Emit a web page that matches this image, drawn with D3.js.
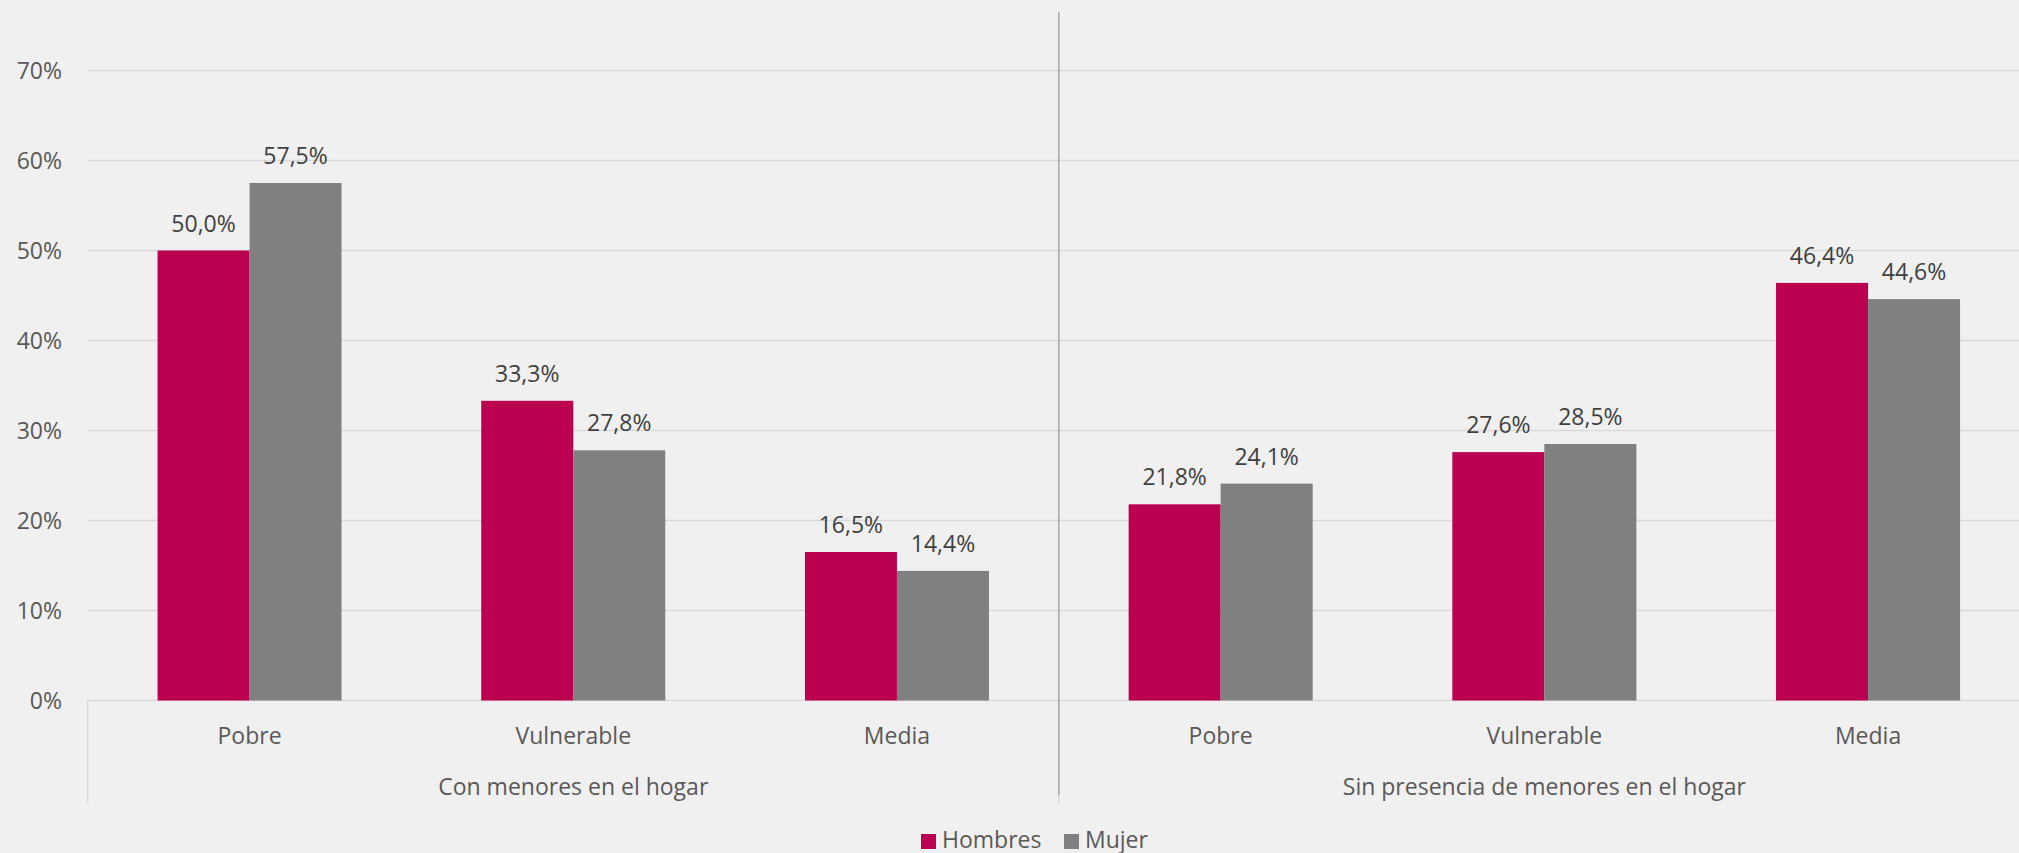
<!DOCTYPE html>
<html><head><meta charset="utf-8">
<script src="https://cdn.jsdelivr.net/npm/d3@7"></script>
<style>
html,body{margin:0;padding:0;background:#F0F0F0;}
svg{display:block;font-family:"Open Sans",sans-serif;}
</style></head>
<body>
<svg id="chart" width="2019" height="853"></svg>
<script>
const groups = ["Con menores en el hogar", "Sin presencia de menores en el hogar"];
const categories = ["Pobre", "Vulnerable", "Media"];
const seriesNames = ["Hombres", "Mujer"];
const hombres = [50.0, 33.3, 16.5, 21.8, 27.6, 46.4];
const mujer = [57.5, 27.8, 14.4, 24.1, 28.5, 44.6];
const yTicks = [0, 10, 20, 30, 40, 50, 60, 70];
const colors = ["#BC0050", "#808080"];

const svg = d3.select("#chart");
const left = 87.7, step = 323.7;
const keys = [];
groups.forEach((g, gi) => categories.forEach((c, ci) => keys.push(gi + "|" + c)));
const x0 = d3.scaleBand().domain(keys).range([left, left + step * keys.length]).padding(0);
const x1 = d3.scaleBand().domain(seriesNames).range([0, x0.bandwidth()]).paddingInner(0).paddingOuter(0.759);
const y = d3.scaleLinear().domain([0, 70]).range([700.5, 70.5]);

// gridlines
svg.append("g").selectAll("line").data(yTicks).join("line")
  .attr("x1", left).attr("x2", 2019)
  .attr("y1", d => y(d)).attr("y2", d => y(d))
  .attr("stroke", "#D9D9D9").attr("stroke-width", 1.5);

// y labels
svg.append("g").selectAll("text").data(yTicks).join("text")
  .attr("x", 62).attr("y", d => y(d)).attr("dy", "0.35em")
  .attr("text-anchor", "end").attr("fill", "#595959").attr("font-size", 23)
  .text(d => d + "%");

// bars
const data = keys.map((k, i) => ({k, vals: [hombres[i], mujer[i]]}));
const gBars = svg.append("g");
data.forEach(d => {
  seriesNames.forEach((s, si) => {
    const v = d.vals[si];
    const bx = x0(d.k) + x1(s);
    gBars.append("rect")
      .attr("x", bx).attr("width", x1.bandwidth())
      .attr("y", y(v)).attr("height", y(0) - y(v))
      .attr("fill", colors[si]);
    gBars.append("text")
      .attr("x", bx + x1.bandwidth() / 2).attr("y", y(v) - 19)
      .attr("text-anchor", "middle").attr("fill", "#404040").attr("font-size", 23)
      .text(v.toFixed(1).replace(".", ",") + "%");
  });
});

// category axis lines
const divX = left + step * 3;
svg.append("line").attr("x1", left).attr("x2", left).attr("y1", 700.5).attr("y2", 803)
  .attr("stroke", "#D9D9D9").attr("stroke-width", 1.5);
svg.append("line").attr("x1", divX).attr("x2", divX).attr("y1", 700.5).attr("y2", 803)
  .attr("stroke", "#D9D9D9").attr("stroke-width", 1.5);
svg.append("line").attr("x1", divX).attr("x2", divX).attr("y1", 12).attr("y2", 795)
  .attr("stroke", "#A6A6A6").attr("stroke-width", 1.5);

// category labels
svg.append("g").selectAll("text").data(keys).join("text")
  .attr("x", d => x0(d) + x0.bandwidth() / 2).attr("y", 744)
  .attr("text-anchor", "middle").attr("fill", "#595959").attr("font-size", 23)
  .text(d => d.split("|")[1]);

// group labels
svg.append("g").selectAll("text").data(groups).join("text")
  .attr("x", (d, i) => left + step * 3 * i + step * 1.5).attr("y", 795)
  .attr("text-anchor", "middle").attr("fill", "#595959").attr("font-size", 23)
  .text(d => d);

// legend
const legendX = [921, 1064];
const lg = svg.append("g");
seriesNames.forEach((s, i) => {
  lg.append("rect").attr("x", legendX[i]).attr("y", 834).attr("width", 15).attr("height", 15).attr("fill", colors[i]);
  lg.append("text").attr("x", legendX[i] + 21).attr("y", 848).attr("fill", "#595959").attr("font-size", 23).text(s);
});
</script>
</body></html>
